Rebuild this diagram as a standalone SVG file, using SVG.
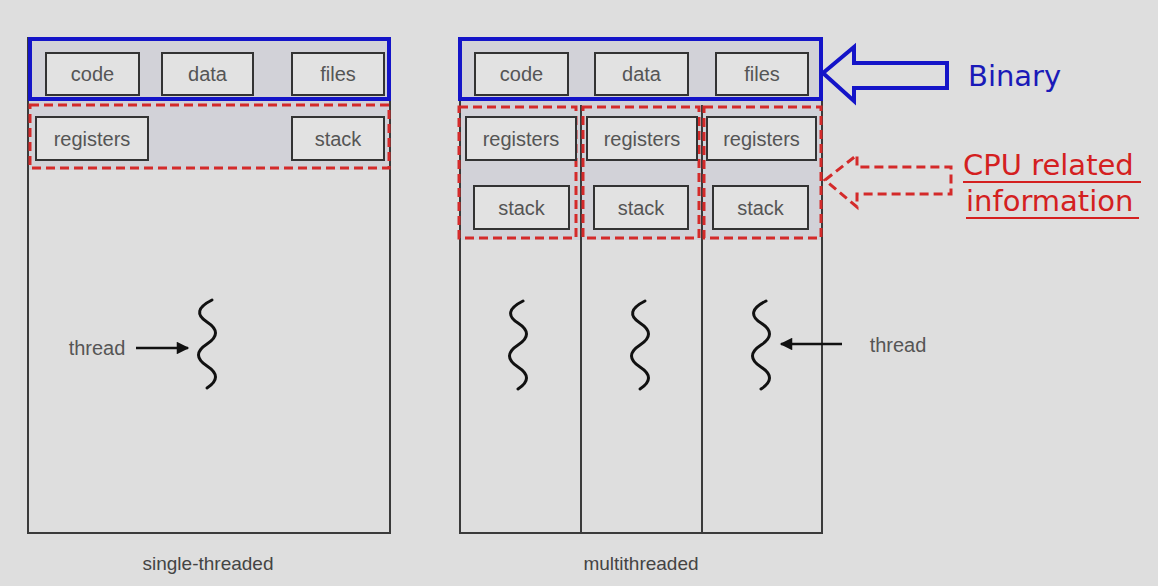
<svg xmlns="http://www.w3.org/2000/svg" width="1158" height="586" viewBox="0 0 1158 586">
<style>
.frame{fill:none;stroke:#3a3a3a;stroke-width:2}
.shade{fill:#d2d2d8}
.box{fill:#e2e2e2;stroke:#333;stroke-width:2}
.bt{font-family:"Liberation Sans",Arial,sans-serif;font-size:20px;fill:#555;text-anchor:middle}
.cap{font-family:"Liberation Sans",Arial,sans-serif;font-size:19px;fill:#444;text-anchor:middle}
.blue{fill:none;stroke:#1414c8;stroke-width:4}
.red{fill:none;stroke:#d42a2a;stroke-width:3;stroke-dasharray:9 5}
.thr{fill:none;stroke:#111;stroke-width:3;stroke-linecap:round}
.arr{stroke:#111;stroke-width:2.5}
.note{font-family:"DejaVu Sans",sans-serif;font-size:29px}
</style>
<defs>
<marker id="ah" viewBox="0 0 10 10" refX="9" refY="5" markerWidth="5.5" markerHeight="5" orient="auto-start-reverse"><path d="M0,0 L10,5 L0,10 z" fill="#111"/></marker>
</defs>
<rect width="1158" height="586" fill="#dedede"/>

<g id="single">
<rect class="shade" x="28" y="38" width="362" height="132"/>
<rect class="frame" x="28" y="38" width="362" height="495"/>
<rect class="blue" x="30" y="39" width="359" height="60"/>
<rect class="red" x="30" y="105" width="359" height="63"/>
<rect class="box" x="46" y="53" width="93" height="42"/><text class="bt" x="92.5" y="81">code</text>
<rect class="box" x="162" y="53" width="91" height="42"/><text class="bt" x="207.5" y="81">data</text>
<rect class="box" x="292" y="53" width="92" height="42"/><text class="bt" x="338" y="81">files</text>
<rect class="box" x="36" y="117" width="112" height="43"/><text class="bt" x="92" y="146">registers</text>
<rect class="box" x="292" y="117" width="92" height="43"/><text class="bt" x="338" y="146">stack</text>
<path class="thr" d="M212,300 q-22,11 -5,22 t0,22 t0,22 t0,22"/>
<text class="bt" x="97" y="355">thread</text>
<text class="cap" x="208" y="570">single-threaded</text>
</g>

<g id="multi">
<rect class="shade" x="460" y="38" width="362" height="202"/>
<rect class="frame" x="460" y="38" width="362" height="495"/>
<line class="frame" x1="581" y1="105" x2="581" y2="533"/>
<line class="frame" x1="702" y1="105" x2="702" y2="533"/>
<rect class="blue" x="460" y="39" width="361" height="60"/>
<rect class="red" x="459" y="107" width="117" height="131"/>
<rect class="red" x="583" y="107" width="116" height="131"/>
<rect class="red" x="704" y="107" width="117" height="131"/>
<rect class="box" x="475" y="53" width="93" height="42"/><text class="bt" x="521.5" y="81">code</text>
<rect class="box" x="595" y="53" width="93" height="42"/><text class="bt" x="641.5" y="81">data</text>
<rect class="box" x="716" y="53" width="92" height="42"/><text class="bt" x="762" y="81">files</text>
<rect class="box" x="466" y="117" width="110" height="43"/><text class="bt" x="521" y="146">registers</text>
<rect class="box" x="587" y="117" width="110" height="43"/><text class="bt" x="642" y="146">registers</text>
<rect class="box" x="707" y="117" width="109" height="43"/><text class="bt" x="761.5" y="146">registers</text>
<rect class="box" x="474" y="186" width="95" height="43"/><text class="bt" x="521.5" y="215">stack</text>
<rect class="box" x="594" y="186" width="94" height="43"/><text class="bt" x="641" y="215">stack</text>
<rect class="box" x="713" y="186" width="95" height="43"/><text class="bt" x="760.5" y="215">stack</text>
<path class="thr" d="M523,301 q-22,11 -5,22 t0,22 t0,22 t0,22"/>
<path class="thr" d="M645,301 q-22,11 -5,22 t0,22 t0,22 t0,22"/>
<path class="thr" d="M766,301 q-22,11 -5,22 t0,22 t0,22 t0,22"/>
<text class="bt" x="898" y="352">thread</text>
<text class="cap" x="641" y="570">multithreaded</text>
</g>

<g id="binary">
<path class="blue" d="M823,73 L854,47 L854,63 L947,63 L947,88 L854,88 L854,101 Z"/>
<text class="note" x="968" y="86" fill="#1a1ab8">Binary</text>
</g>

<g id="cpu">
<path class="red" stroke-width="2.5" d="M825,180 L857,155 L857,167 L951,167 L951,194 L857,194 L857,207 Z"/>
<text class="note" x="963" y="175" fill="#d42020">CPU related</text>
<line x1="963" y1="182" x2="1141" y2="182" stroke="#d42020" stroke-width="2"/>
<text class="note" x="966" y="211" fill="#d42020">information</text>
<line x1="966" y1="218" x2="1139" y2="218" stroke="#d42020" stroke-width="2"/>
</g>

<g id="connectors">
<line class="arr" x1="136" y1="348" x2="188" y2="348" marker-end="url(#ah)"/>
<line class="arr" x1="842" y1="344" x2="781" y2="344" marker-end="url(#ah)"/>
</g>
</svg>
